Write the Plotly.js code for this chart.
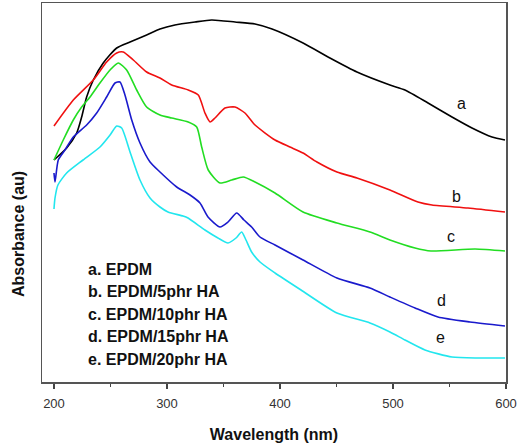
<!DOCTYPE html>
<html>
<head>
<meta charset="utf-8">
<script src="https://cdn.plot.ly/plotly-3.0.1.min.js"></script>
<style>html,body{margin:0;padding:0;background:#fff;}#chart{width:518px;height:444px;}</style>
</head>
<body>
<div id="chart"></div>
<script>
// Wavelength (nm) and absorbance (arbitrary units) for each sample
var wlA = [200,211.2,220.1,224.5,228.9,234.8,243.6,255.5,267.3,282,293.8,307,324.8,339.6,360.2,377.9,393,420.4,444.2,468.1,497.3,510.6,531,552.2,569.9,587.6,599.1];
var absA = [2.22,2.34,2.49,2.65,2.85,3.02,3.19,3.34,3.40,3.47,3.53,3.57,3.60,3.62,3.60,3.58,3.53,3.39,3.24,3.10,2.97,2.92,2.79,2.65,2.54,2.45,2.42];

var wlB = [200,217.1,234.8,246.6,255.5,261.3,270.2,282,293.8,304.2,318.8,327.7,333.6,338.1,342.5,351.3,360.2,369,377.9,395.6,408.8,420.4,432.7,450.4,468.1,497.3,522.1,534.5,566.4,599.1];
var absB = [2.56,2.82,3.02,3.20,3.29,3.30,3.22,3.10,3.04,2.97,2.92,2.87,2.69,2.60,2.64,2.74,2.75,2.69,2.57,2.42,2.35,2.29,2.20,2.10,2.04,1.92,1.80,1.77,1.74,1.70];

var wlC = [200,208.2,217.1,224.5,231.9,240.7,249.6,256.9,264.3,273.2,282,293.8,304.2,318.8,326.3,330.7,336.5,346.9,357.3,367.5,377.9,395.6,420.4,450.4,479.6,497.3,519.5,533.6,572.6,599.1];
var absC = [2.22,2.42,2.62,2.75,2.85,2.99,3.12,3.19,3.12,2.92,2.75,2.67,2.64,2.60,2.55,2.35,2.12,1.99,2.02,2.05,2.00,1.89,1.70,1.59,1.50,1.42,1.34,1.31,1.33,1.31];

var wlD = [200,200.9,203.8,209.7,217.1,228.9,237.8,246.6,254,258.4,262.8,268.8,276.1,285,293.8,308.6,320.4,329.2,336.3,346.9,354,361.7,368.1,374.9,382.3,395.6,420.4,450.4,479.6,497.3,519.5,539.8,568.1,599.1];
var absD = [2.09,2.00,2.22,2.32,2.45,2.57,2.69,2.85,2.99,3.00,2.87,2.62,2.39,2.20,2.10,1.95,1.87,1.79,1.65,1.55,1.60,1.69,1.62,1.55,1.45,1.37,1.22,1.04,0.94,0.85,0.74,0.65,0.60,0.56];

var wlE = [200,200.9,203.5,211.2,225.7,240.7,249.6,255.5,259.9,267.3,276.1,285,293.8,300.9,314.2,318.6,333.6,345.1,354,361.1,366.1,369.9,374.9,382.3,395.6,418.6,450.4,479.6,497.3,510.6,528.3,552.2,575.2,599.1];
var absE = [1.73,1.84,1.97,2.09,2.22,2.35,2.47,2.56,2.54,2.30,2.02,1.84,1.75,1.70,1.66,1.64,1.52,1.44,1.39,1.44,1.50,1.42,1.30,1.20,1.09,0.92,0.69,0.59,0.50,0.42,0.32,0.25,0.24,0.24];

var curveLetters = ['a','b','c','d','e'];
var curveLetterX = [561,555.8,551.3,542.5,541.6];
var curveLetterY = [2.79,1.86,1.46,0.82,0.45];
var legendLines = ['a. EPDM','b. EPDM/5phr HA','c. EPDM/10phr HA','d. EPDM/15phr HA','e. EPDM/20phr HA'];
var xTicks = [200,300,400,500,600];

var colors = ['#000000','#f01010','#22dd22','#1a1acc','#22e6ee'];
var series = [[wlA,absA],[wlB,absB],[wlC,absC],[wlD,absD],[wlE,absE]];

var traces = series.map(function(s,i){
  return {x:s[0], y:s[1], type:'scatter', mode:'lines',
    line:{color:colors[i], width:1.6, shape:'spline', smoothing:0.6}, showlegend:false, hoverinfo:'skip'};
});

var fam = 'Liberation Sans, Arial, sans-serif';
var annotations = [];
curveLetters.forEach(function(l,i){
  annotations.push({x:curveLetterX[i], y:curveLetterY[i], xref:'x', yref:'y', text:l,
    showarrow:false, font:{family:fam, size:16, color:'#111'}});
});
legendLines.forEach(function(t,i){
  annotations.push({x:0.095, y:0.298 - i*0.0595, xref:'paper', yref:'paper', text:'<b>'+t+'</b>',
    xanchor:'left', yanchor:'middle', showarrow:false,
    font:{family:fam, size:16, color:'#111'}});
});
annotations.push({x:-0.052, y:0.39, xref:'paper', yref:'paper', text:'<b>Absorbance (au)</b>',
  textangle:-90, showarrow:false, xanchor:'center', yanchor:'middle',
  font:{family:fam, size:16, color:'#111'}});

var layout = {
  width:518, height:444,
  margin:{l:42, r:12, t:3, b:62},
  paper_bgcolor:'#fff', plot_bgcolor:'#fff',
  xaxis:{range:[189.4,600], tickvals:xTicks, ticktext:xTicks.map(String),
    ticks:'outside', ticklen:5, tickwidth:1.5, tickcolor:'#444', ticklabelstandoff:4,
    minor:{ticks:'outside', ticklen:3, dtick:50, tick0:0, tickcolor:'#444', tickwidth:1.5, showgrid:false},
    showgrid:false, zeroline:false, showline:true, linecolor:'#555', linewidth:1.5, mirror:true,
    tickfont:{family:fam, size:13, color:'#333'},
    title:{text:'<b>Wavelength (nm)</b>', standoff:18,
      font:{family:fam, size:16, color:'#111'}}},
  yaxis:{range:[0,3.79], showticklabels:false, ticks:'', showgrid:false, zeroline:false,
    showline:true, linecolor:'#555', linewidth:1.5, mirror:true},
  annotations:annotations
};

Plotly.newPlot('chart', traces, layout, {displayModeBar:false, staticPlot:true});
</script>
</body>
</html>
